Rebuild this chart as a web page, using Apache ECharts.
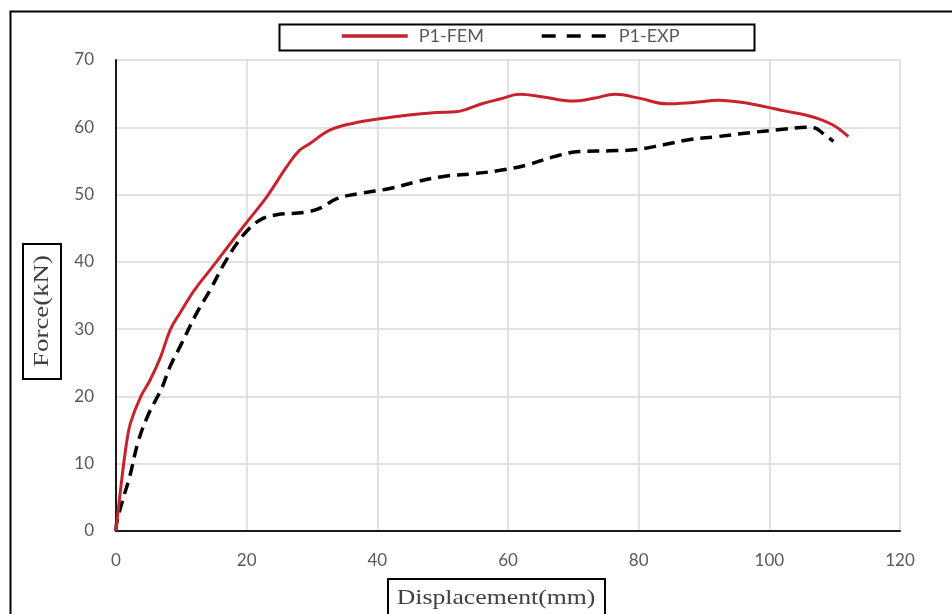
<!DOCTYPE html>
<html>
<head>
<meta charset="utf-8">
<script src="https://cdn.jsdelivr.net/npm/echarts@6/dist/echarts.min.js"></script>
<style>html,body{margin:0;padding:0;background:#fff}#c{width:952px;height:614px}</style>
</head>
<body>
<div id="c"></div>
<script>
const seriesNames = ['P1-FEM', 'P1-EXP'];
const xTicks = [0, 20, 40, 60, 80, 100, 120];
const yTicks = [0, 10, 20, 30, 40, 50, 60, 70];
const xTitle = 'Displacement(mm)';
const yTitle = 'Force(kN)';

const femX = [0,0.8,1.6,2.2,3.7,5.2,6.8,8.3,9.8,12,14.4,17,19.7,23.1,26.1,28,29.7,32.8,36.8,39.9,44.5,49.1,52,54,56,58.8,61.8,65.4,70,73.1,76.4,80.2,84.3,88.4,92.2,94,96.5,99.6,102.5,105.7,108,109.8,111,112.1];
const femY = [0,7,13,16,19.8,22.4,25.8,29.9,32.4,35.8,38.8,42.1,45.5,49.7,54.1,56.5,57.6,59.6,60.7,61.2,61.8,62.2,62.3,62.8,63.5,64.2,64.9,64.5,63.9,64.3,64.9,64.3,63.5,63.7,64.0,63.9,63.6,63.0,62.4,61.8,61.1,60.3,59.5,58.6];

const expX = [0,0.1,1,2.1,3.4,4.9,6.2,7,8.3,9.8,12.3,14.4,16.9,19.5,22,24.6,27,29.7,31.5,33.8,37.6,41.9,46,50.1,54.7,58.8,62.9,66.9,71,75.6,79.7,83.8,87.9,91.9,97,102.1,105.7,107,108.2,109.8];
const expY = [0,1.2,4.5,8.1,13.3,17.2,19.7,21.2,24.5,27.4,32.3,35.8,40.3,44,46.2,47,47.2,47.5,48.1,49.4,50.2,50.9,51.9,52.7,53.1,53.6,54.4,55.6,56.4,56.5,56.7,57.4,58.2,58.6,59.2,59.7,60,59.9,59.1,57.9];

const zip = (a, b) => a.map((v, i) => [v, b[i]]);

const chart = echarts.init(document.getElementById('c'), null, {renderer: 'canvas'});
const labelFont = {color: '#595959', fontFamily: 'Lato', fontSize: 17};

chart.setOption({
  animation: false,
  grid: {left: 116, right: 52, top: 60, bottom: 83},
  legend: {
    left: 335, top: 22,
    itemWidth: 66, itemHeight: 14,
    itemGap: 56,
    itemStyle: {opacity: 0},
    lineStyle: {width: 3.5},
    textStyle: {color: '#595959', fontFamily: 'Lato', fontSize: 18, padding: [0, 0, 0, 6]},
    data: [
      {name: seriesNames[0]},
      {name: seriesNames[1], lineStyle: {type: [14, 11], width: 3.5}}
    ]
  },
  xAxis: {
    type: 'value', min: xTicks[0], max: xTicks[xTicks.length - 1], interval: 20,
    axisLine: {show: true, onZero: false, lineStyle: {color: '#1a1a1a', width: 2}},
    axisTick: {show: false},
    axisLabel: Object.assign({margin: 21}, labelFont),
    splitLine: {show: true, lineStyle: {color: '#d9d9d9', width: 1.5}}
  },
  yAxis: {
    type: 'value', min: yTicks[0], max: yTicks[yTicks.length - 1], interval: 10,
    axisLine: {show: true, onZero: false, lineStyle: {color: '#1a1a1a', width: 2}},
    axisTick: {show: false},
    axisLabel: Object.assign({margin: 22}, labelFont),
    splitLine: {show: true, lineStyle: {color: '#d9d9d9', width: 1.5}}
  },
  series: [
    {
      name: seriesNames[0], type: 'line', symbol: 'none', smooth: 0.4,
      data: zip(femX, femY),
      lineStyle: {color: '#c8232c', width: 3},
      itemStyle: {color: '#c8232c'}, z: 3
    },
    {
      name: seriesNames[1], type: 'line', symbol: 'none', smooth: 0.4,
      data: zip(expX, expY),
      lineStyle: {color: '#000000', width: 3.5, type: [12, 7]},
      itemStyle: {color: '#000000'}, z: 2
    }
  ],
  graphic: [
    {type: 'rect', left: 8, top: 9, shape: {width: 980, height: 640}, style: {fill: 'none', stroke: '#000', lineWidth: 2}, silent: true},
    {type: 'rect', left: 277, top: 22, shape: {width: 475, height: 26}, style: {fill: 'none', stroke: '#000', lineWidth: 2}, silent: true, z: -1},
    {type: 'rect', left: 22, top: 243, shape: {width: 38, height: 135}, style: {fill: '#fff', stroke: '#000', lineWidth: 2}, silent: true},
    {type: 'text', x: 42, y: 311, rotation: Math.PI / 2, scaleX: 1.22,
      style: {text: yTitle, fill: '#404040', font: '22px "Liberation Serif"', align: 'center', verticalAlign: 'middle'}, silent: true, z: 10},
    {type: 'rect', left: 387, top: 578, shape: {width: 217, height: 40}, style: {fill: '#fff', stroke: '#000', lineWidth: 2}, silent: true},
    {type: 'text', x: 496, y: 598, scaleX: 1.17,
      style: {text: xTitle, fill: '#404040', font: '22px "Liberation Serif"', align: 'center', verticalAlign: 'middle'}, silent: true, z: 10}
  ]
});
</script>
</body>
</html>
